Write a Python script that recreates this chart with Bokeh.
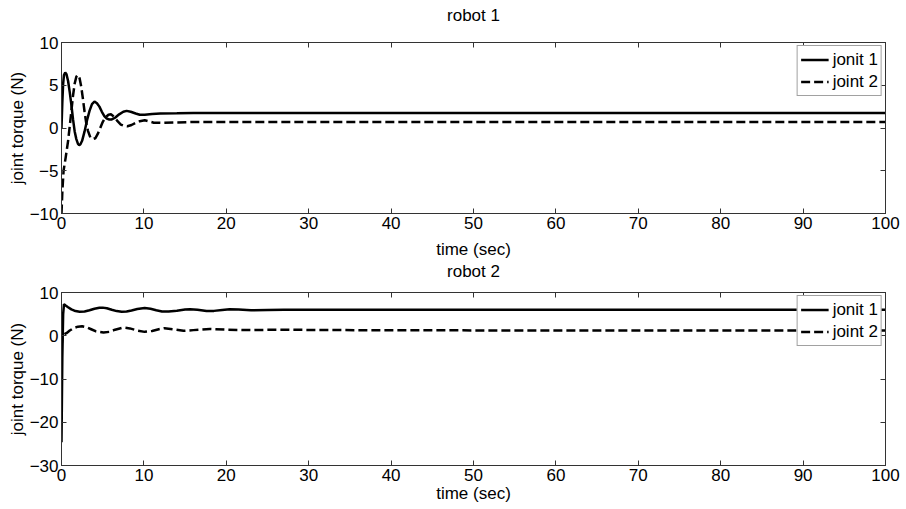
from bokeh.plotting import figure
from bokeh.layouts import column
from bokeh.models import (LinearAxis, FixedTicker, Legend, LegendItem, Range1d,
                          CustomLabelingPolicy, Title)
from bokeh.embed import file_html
from bokeh.resources import INLINE

# ---------------- data ----------------
r1_j1_t = [0, 0.1, 0.2, 0.3, 0.45, 0.6, 0.8, 1.0, 1.2, 1.4, 1.6, 1.8, 2.0, 2.15, 2.3, 2.5, 2.8,
           3.1, 3.4, 3.7, 4.0, 4.3, 4.6, 4.9, 5.2, 5.5, 5.8, 6.1, 6.5, 7.0, 7.5, 7.9, 8.4, 9.0,
           9.5, 10.1, 11, 12, 14, 16, 20, 30, 50, 100]
r1_j1_v = [0.0, 3.0, 5.2, 6.2, 6.5, 6.3, 5.5, 4.2, 2.7, 1.0, -0.4, -1.3, -1.85, -2.0, -1.9, -1.5, -0.4,
           0.9, 2.0, 2.8, 3.1, 2.9, 2.5, 1.9, 1.4, 1.1, 1.0, 1.0, 1.2, 1.6, 1.9, 2.0, 1.9, 1.7,
           1.55, 1.55, 1.65, 1.7, 1.72, 1.75, 1.75, 1.75, 1.75, 1.75]

r1_j2_t = [0, 0.1, 0.25, 0.5, 0.8, 1.0, 1.2, 1.4, 1.6, 1.8, 2.0, 2.2, 2.4, 2.6, 2.8, 3.0, 3.2,
           3.5, 3.8, 4.1, 4.4, 4.7, 5.0, 5.3, 5.7, 6.0, 6.4, 6.8, 7.2, 7.6, 8.0, 8.5, 9.0, 9.5,
           10.1, 10.7, 11.2, 12, 14, 16, 30, 100]
r1_j2_v = [-10.0, -7.5, -5.0, -3.5, -1.5, 0.2, 2.0, 3.8, 5.2, 6.0, 6.2, 5.8, 4.8, 3.4, 1.9, 0.6, -0.3,
           -1.1, -1.3, -1.2, -0.7, 0.0, 0.7, 1.2, 1.55, 1.6, 1.3, 0.8, 0.4, 0.25, 0.2, 0.35, 0.6, 0.8,
           0.9, 0.75, 0.62, 0.6, 0.65, 0.7, 0.7, 0.7]

r2_j1_t = [0, 0.1, 0.2, 0.3, 0.5, 0.8, 1.2, 1.7, 2.2, 2.8, 3.4, 4.0, 4.6, 5.0, 5.5, 6.1, 6.7, 7.3,
           7.9, 8.5, 9.2, 10.1, 10.8, 11.5, 12.2, 13, 14, 15, 15.6, 16.5, 17.6, 18.5, 19.5, 20.4,
           21.5, 23, 25, 27, 30, 35, 100]
r2_j1_v = [-24.6, -5.0, 5.0, 7.3, 7.0, 6.6, 6.1, 5.7, 5.55, 5.6, 5.9, 6.25, 6.45, 6.5, 6.35, 6.0, 5.7, 5.55,
           5.6, 5.85, 6.2, 6.4, 6.25, 5.9, 5.6, 5.6, 5.8, 6.05, 6.15, 6.0, 5.7, 5.75, 5.95, 6.1,
           6.05, 5.9, 5.95, 6.0, 6.0, 6.0, 6.0]

r2_j2_t = [0, 0.1, 0.3, 0.6, 1.0, 1.5, 2.0, 2.5, 3.0, 3.6, 4.2, 5.1, 5.8, 6.5, 7.5, 8.3, 9.2, 10.1,
           11, 11.8, 12.5, 13.5, 14.8, 16, 18, 20, 23, 26, 30, 40, 100]
r2_j2_v = [-2.5, -0.5, 0.3, 0.6, 1.2, 1.8, 2.1, 2.2, 2.0, 1.5, 1.0, 0.75, 0.9, 1.4, 1.9, 1.7, 1.2, 0.9,
           1.1, 1.5, 1.75, 1.5, 1.15, 1.3, 1.55, 1.4, 1.3, 1.4, 1.35, 1.25, 1.2]

x_ticks = [0, 10, 20, 30, 40, 50, 60, 70, 80, 90, 100]
y_ticks_1 = [-10, -5, 0, 5, 10]
y_ticks_2 = [-30, -20, -10, 0, 10]
titles = ["robot 1", "robot 2"]
legend_labels = ["jonit 1", "joint 2"]

FONT = "Liberation Sans"
FS = "17px"
BOX = "#333333"


def style_title(t, valign, standoff):
    t.align = "center"
    t.vertical_align = valign
    t.standoff = standoff
    t.text_font = FONT
    t.text_font_size = FS
    t.text_font_style = "normal"
    t.text_color = "black"


def make_panel(t1, v1, t2, v2, yr, yticks, height, top, bottom, xlabel_standoff,
               top_axis_label_size):
    p = figure(width=906, height=height, output_backend="svg", toolbar_location=None,
               x_range=Range1d(0, 100), y_range=Range1d(*yr),
               min_border_left=61, min_border_right=21,
               min_border_top=top, min_border_bottom=bottom,
               background_fill_color="white", border_fill_color="white")
    p.grid.visible = False
    p.outline_line_color = BOX

    for ax in p.xaxis:
        ax.ticker = FixedTicker(ticks=x_ticks)
        ax.axis_label = "time (sec)"
        ax.axis_label_standoff = xlabel_standoff
    for ax in p.yaxis:
        ax.ticker = FixedTicker(ticks=yticks)
        ax.axis_label = "joint torque (N)"
        ax.axis_label_standoff = 0
    for ax in list(p.xaxis) + list(p.yaxis):
        ax.major_tick_in = 5
        ax.major_tick_out = 0
        ax.minor_tick_line_color = None
        ax.axis_line_color = BOX
        ax.major_tick_line_color = BOX
        ax.major_label_text_font = FONT
        ax.major_label_text_font_size = FS
        ax.major_label_text_color = "black"
        ax.major_label_standoff = 3
        ax.axis_label_text_font = FONT
        ax.axis_label_text_font_size = FS
        ax.axis_label_text_font_style = "normal"
        ax.axis_label_text_color = "black"

    # mirrored tick marks on top and right (no labels drawn)
    top_ax = LinearAxis(ticker=FixedTicker(ticks=x_ticks), major_tick_in=5, major_tick_out=0,
                        minor_tick_line_color=None, axis_line_color=BOX,
                        major_tick_line_color=BOX, major_label_standoff=0,
                        major_label_text_font_size=top_axis_label_size,
                        major_label_policy=CustomLabelingPolicy(code="return [];"))
    right_ax = LinearAxis(ticker=FixedTicker(ticks=yticks), major_tick_in=5, major_tick_out=0,
                          minor_tick_line_color=None, axis_line_color=BOX,
                          major_tick_line_color=BOX, major_label_standoff=0,
                          major_label_text_font_size="1px",
                          major_label_policy=CustomLabelingPolicy(code="return [];"))
    p.add_layout(top_ax, "above")
    p.add_layout(right_ax, "right")

    r1 = p.line(t1, v1, line_color="black", line_width=2.5)
    r2 = p.line(t2, v2, line_color="black", line_width=2.5, line_dash="9 4")

    leg = Legend(items=[LegendItem(label=legend_labels[0], renderers=[r1]),
                        LegendItem(label=legend_labels[1], renderers=[r2])],
                 location="top_right", margin=3, padding=3, spacing=1,
                 glyph_width=28, glyph_height=21, label_height=21, label_standoff=4,
                 label_text_font=FONT, label_text_font_size=FS, label_text_color="black",
                 border_line_color="#444444", border_line_width=1,
                 background_fill_color="white", background_fill_alpha=1.0)
    p.add_layout(leg, "center")
    return p


p1 = make_panel(r1_j1_t, r1_j1_v, r1_j2_t, r1_j2_v, (-10, 10), y_ticks_1,
                282, 41, 69, 8, "11px")
p1.title.text = titles[0]
style_title(p1.title, "top", 10)

# the second panel's title sits in the gap under the first panel
t2 = Title(text=titles[1])
style_title(t2, "top", 0)
p1.add_layout(t2, "below")

p2 = make_panel(r2_j1_t, r2_j1_v, r2_j2_t, r2_j2_v, (-30, 10), y_ticks_2,
                227, 10, 44, 0, "1px")
p2.title = None

layout = column(p1, p2, spacing=0)
open("out.html", "w").write(file_html(layout, INLINE))
